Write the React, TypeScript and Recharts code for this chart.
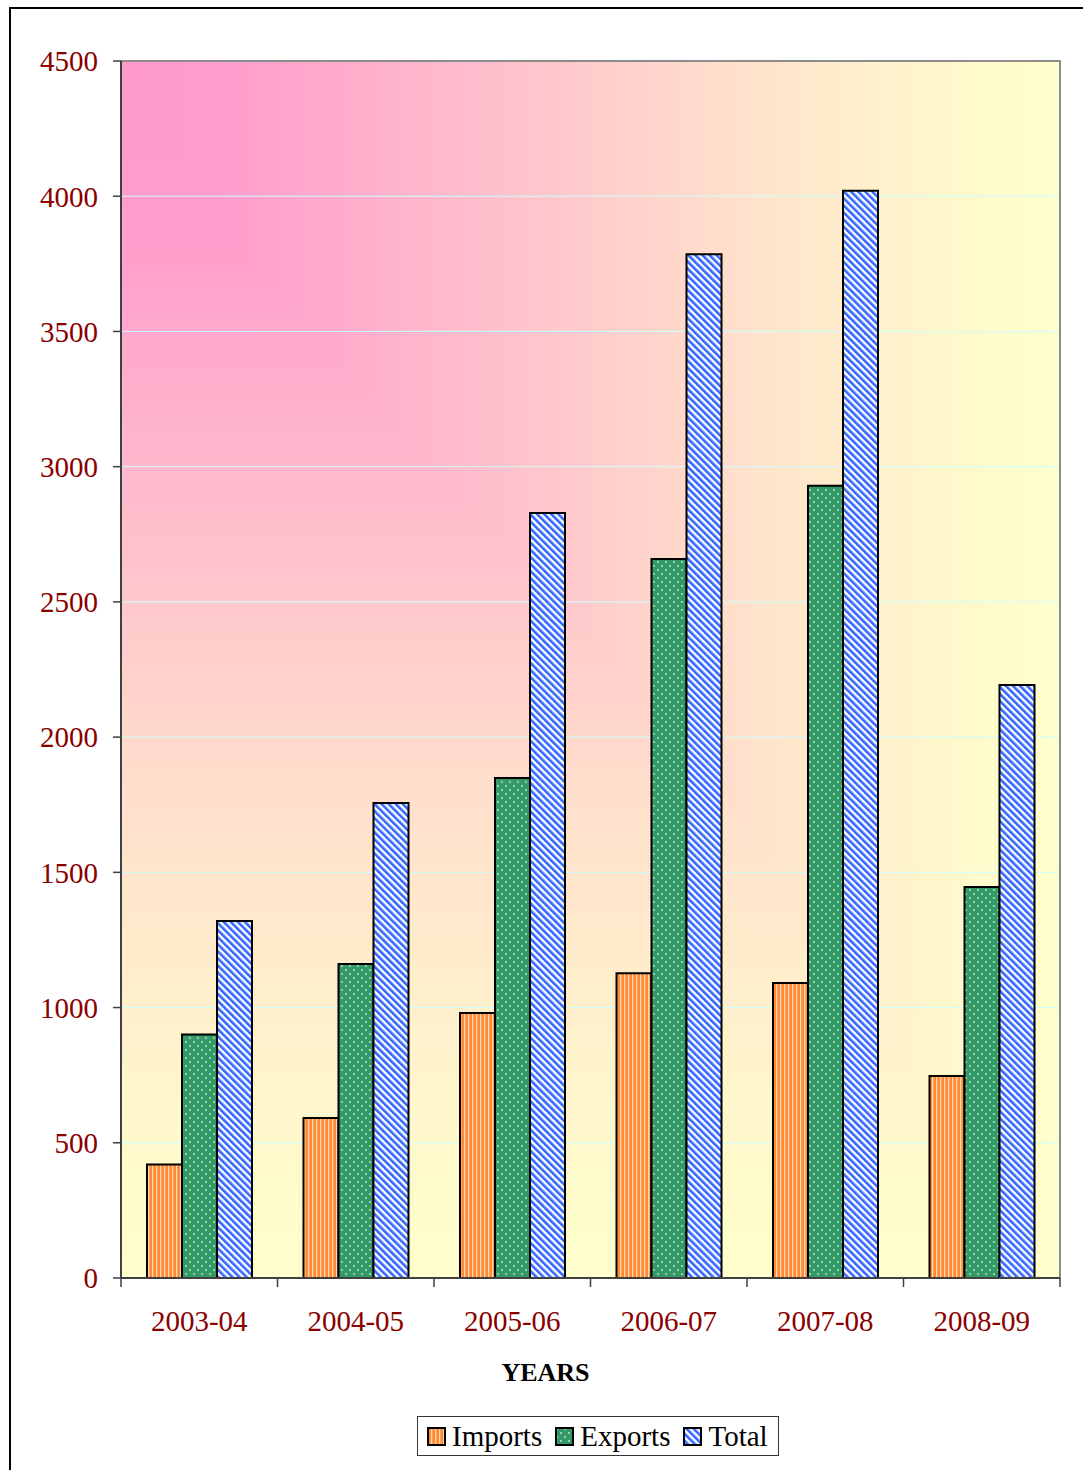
import React from "react";
import { BarChart, Bar, XAxis, YAxis, CartesianGrid, ReferenceArea } from "recharts";

const years = ["2003-04", "2004-05", "2005-06", "2006-07", "2007-08", "2008-09"];
const importsValues = [420, 592, 980, 1127, 1091, 747];
const exportsValues = [900, 1161, 1849, 2659, 2929, 1446];
const totalValues = [1320, 1756, 2829, 3785, 4020, 2193];
const yTicks = [0, 500, 1000, 1500, 2000, 2500, 3000, 3500, 4000, 4500];

const series = [
  { key: "imports", name: "Imports", fill: "url(#patImports)" },
  { key: "exports", name: "Exports", fill: "url(#patExports)" },
  { key: "total", name: "Total", fill: "url(#patTotal)" },
];

const data = years.map((year, i) => ({
  year,
  imports: importsValues[i],
  exports: exportsValues[i],
  total: totalValues[i],
}));

const W = 1083;
const H = 1470;
const M = { top: 61, right: 23, bottom: 82, left: 0 };
const Y_AXIS_W = 121;
const X_AXIS_H = 110;
const PLOT_W = W - M.left - M.right - Y_AXIS_W;
const PLOT_H = H - M.top - M.bottom - X_AXIS_H;
const BAND = PLOT_W / years.length;

const FONT = '"Liberation Serif", "Times New Roman", serif';
const RED = "#8a0000";
const AXIS = "#404040";

const XTick = (props: any) => {
  const { x, y, payload, index } = props;
  const left = x - BAND / 2;
  const right = x + BAND / 2;
  return (
    <g>
      <line x1={left} y1={y} x2={left} y2={y + 9} stroke={AXIS} strokeWidth={1.5} />
      {index === years.length - 1 && (
        <line x1={right} y1={y} x2={right} y2={y + 9} stroke={AXIS} strokeWidth={1.5} />
      )}
      <text x={x} y={y + 53} textAnchor="middle" fill={RED} fontSize={29} fontFamily={FONT}>
        {payload.value}
      </text>
    </g>
  );
};

const YearsLabel = (props: any) => {
  const vb = props.viewBox || {};
  return (
    <text
      x={vb.x + vb.width / 2 - 45}
      y={vb.y + 103}
      textAnchor="middle"
      fontSize={26}
      fontWeight="bold"
      fontFamily={FONT}
      fill="#000"
    >
      YEARS
    </text>
  );
};

export default function App() {
  return (
    <div
      style={{
        position: "absolute",
        left: 0,
        top: 0,
        width: W,
        height: H,
        overflow: "hidden",
        background: "#fff",
        fontFamily: FONT,
      }}
    >
      {/* outer frame, runs off the page on the right and bottom */}
      <div
        style={{
          position: "absolute",
          left: 9,
          top: 7,
          width: 1300,
          height: 1700,
          border: "2px solid #000",
        }}
      />
      {/* corner gradient of the plot area (max of horizontal and vertical ramps) */}
      <div
        style={{
          position: "absolute",
          left: M.left + Y_AXIS_W,
          top: M.top,
          width: PLOT_W,
          height: PLOT_H,
          backgroundImage:
            "linear-gradient(to right, #ff99cc 0%, #ff9ecc 12%, #ffc8cc 47%, #ffe2cc 67%, #fff8cc 88%, #ffffcc 100%), linear-gradient(to bottom, #ff99cc 0%, #ff9ecc 15%, #ffc4cc 42%, #ffdfcc 60%, #fff6cc 85%, #ffffcc 100%)",
          backgroundBlendMode: "lighten",
        }}
      />
      <div style={{ position: "absolute", left: 0, top: 0 }}>
        <BarChart
          width={W}
          height={H}
          data={data}
          margin={M}
          barCategoryGap={26}
          barGap={0}
        >
          <defs>
            <pattern id="patImports" width="4" height="4" patternUnits="userSpaceOnUse">
              <rect width="4" height="4" fill="#ff8a33" />
              <rect x="0" width="1.3" height="4" fill="#ffd9b3" />
            </pattern>
            <pattern id="patExports" width="8" height="8" patternUnits="userSpaceOnUse">
              <rect width="8" height="8" fill="#339966" />
              <circle cx="2" cy="2" r="0.9" fill="#c8ecd6" />
              <circle cx="6" cy="6" r="0.9" fill="#c8ecd6" />
            </pattern>
            <pattern
              id="patTotal"
              width="5"
              height="5"
              patternUnits="userSpaceOnUse"
              patternTransform="rotate(-45)"
            >
              <rect width="5" height="5" fill="#ffffff" />
              <rect width="2.6" height="5" fill="#3366ff" />
            </pattern>
          </defs>
          <CartesianGrid vertical={false} stroke="#ccffff" strokeWidth={1} />
          <ReferenceArea y1={0} y2={4500} fill="none" stroke="#8c8c8c" strokeWidth={2} />
          <XAxis
            dataKey="year"
            height={X_AXIS_H}
            axisLine={{ stroke: AXIS, strokeWidth: 2 }}
            tickLine={false}
            tickSize={0}
            tickMargin={0}
            interval={0}
            tick={<XTick />}
            label={<YearsLabel />}
          />
          <YAxis
            width={Y_AXIS_W}
            domain={[0, 4500]}
            ticks={yTicks}
            interval={0}
            axisLine={{ stroke: AXIS, strokeWidth: 2 }}
            tickLine={{ stroke: AXIS, strokeWidth: 1.5 }}
            tickSize={8}
            tickMargin={15}
            tick={{ fill: RED, fontSize: 29, fontFamily: FONT }}
          />
          {series.map((s) => (
            <Bar
              key={s.key}
              dataKey={s.key}
              name={s.name}
              fill={s.fill}
              stroke="#000"
              strokeWidth={2}
              isAnimationActive={false}
            />
          ))}
        </BarChart>
      </div>
      {/* legend */}
      <div
        style={{
          position: "absolute",
          left: 417,
          top: 1416,
          width: 362,
          height: 40,
          border: "1px solid #333",
          background: "#fff",
          display: "flex",
          alignItems: "center",
          paddingLeft: 9,
          boxSizing: "border-box",
          fontSize: 29,
          color: "#000",
        }}
      >
        {series.map((s, i) => (
          <div
            key={s.key}
            style={{ display: "flex", alignItems: "center", marginLeft: i === 0 ? 0 : 13 }}
          >
            <svg width={19} height={19} style={{ marginRight: 6 }}>
              <rect x={1} y={1} width={17} height={17} fill={s.fill} stroke="#000" strokeWidth={2} />
            </svg>
            <span style={{ lineHeight: "29px" }}>{s.name}</span>
          </div>
        ))}
      </div>
    </div>
  );
}
